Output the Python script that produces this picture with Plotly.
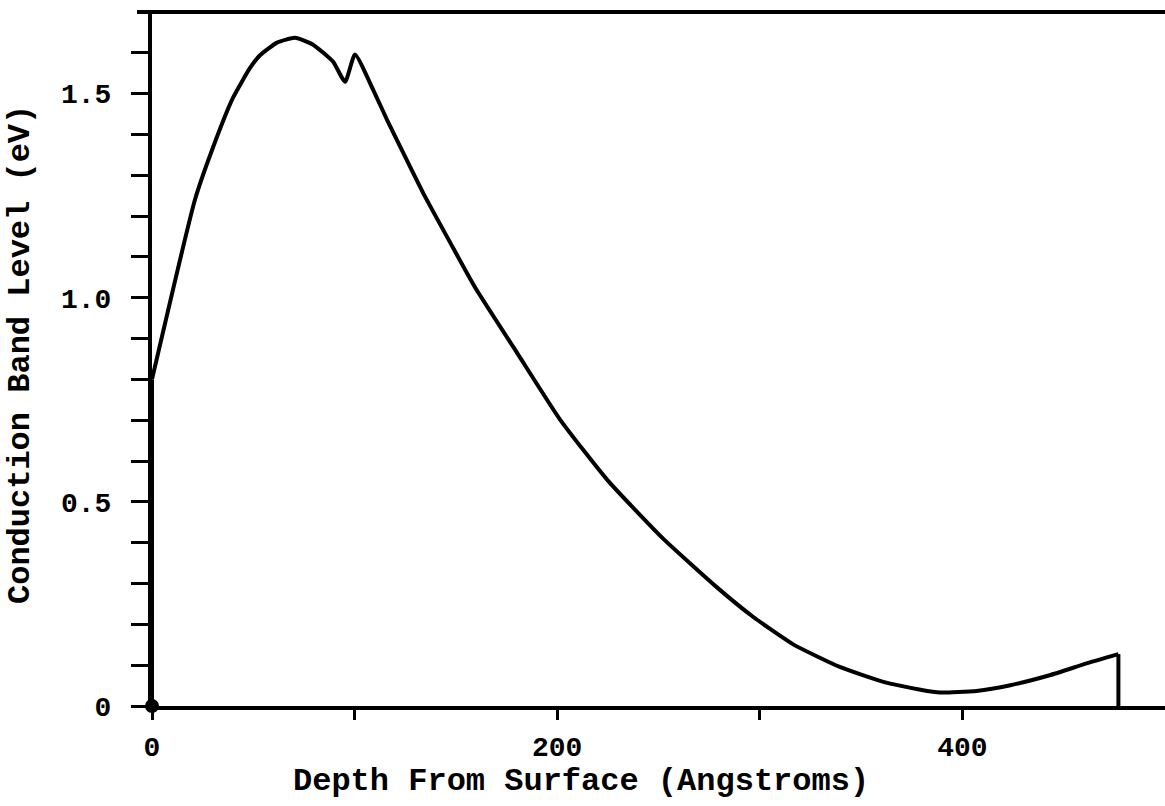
import plotly.graph_objects as go

# Data (depth in Angstroms, conduction band level in eV)
depth = [0, 0, 21.2, 30.1, 40.0, 48.4, 53.3, 61.7, 70.6, 79.5, 89.4, 95.3, 100.2,
         109.1, 116.0, 122.5, 133.8, 147.2, 159.5, 180.2, 201.5, 224.7, 252.3,
         279.0, 296.8, 316.5, 339.8, 361.0, 379.3, 389.0, 407.0, 423.7,
         443.5, 461.7, 477.0, 477.0]
energy = [0, 0.80, 1.24, 1.368, 1.490, 1.563, 1.594, 1.625, 1.637, 1.620, 1.578,
          1.529, 1.596, 1.510, 1.436, 1.370, 1.257, 1.135, 1.025, 0.865, 0.701,
          0.554, 0.410, 0.290, 0.218, 0.151, 0.095, 0.059, 0.040, 0.033,
          0.037, 0.051, 0.076, 0.105, 0.127, 0]

x_tickvals = [0, 100, 200, 300, 400]
x_ticktext = ["0", "", "200", "", "400"]
y_tickvals = [round(0.1 * i, 1) for i in range(17)]
y_ticktext = ["0", "", "", "", "", "0.5", "", "", "", "", "1.0", "", "", "", "", "1.5", ""]

FONT = "Liberation Mono, Courier New, monospace"

fig = go.Figure()
line_lin = dict(color="black", width=4)
# vertical start segment
fig.add_trace(go.Scatter(x=depth[:2], y=energy[:2], mode="lines", line=line_lin,
                         showlegend=False, hoverinfo="skip"))
# smooth body of the curve
fig.add_trace(go.Scatter(x=depth[1:-1], y=energy[1:-1], mode="lines",
                         line=dict(color="black", width=4, shape="spline",
                                   smoothing=0.5),
                         showlegend=False, hoverinfo="skip"))
# vertical drop at the end
fig.add_trace(go.Scatter(x=depth[-2:], y=energy[-2:], mode="lines", line=line_lin,
                         showlegend=False, hoverinfo="skip"))
fig.add_trace(go.Scatter(x=[0], y=[0], mode="markers",
                         marker=dict(color="black", size=14), cliponaxis=False,
                         showlegend=False, hoverinfo="skip"))

fig.update_layout(
    width=1165, height=806,
    margin=dict(l=152, r=0, t=12, b=100),
    paper_bgcolor="white", plot_bgcolor="white",
    font=dict(family=FONT, color="black", size=28, weight="bold"),
    xaxis=dict(range=[0, 500], showgrid=False, zeroline=False,
               showline=True, linecolor="black", linewidth=4,
               ticks="outside", tickvals=x_tickvals, ticktext=x_ticktext,
               ticklen=10, tickwidth=3, tickcolor="black",
               ticklabelstandoff=2,
               tickfont=dict(family=FONT, size=28, weight="bold")),
    yaxis=dict(range=[0, 1.70], showgrid=False, zeroline=False,
               showline=True, linecolor="black", linewidth=4,
               ticks="outside", tickvals=y_tickvals, ticktext=y_ticktext,
               ticklen=17, tickwidth=3, tickcolor="black",
               ticklabelstandoff=14,
               tickfont=dict(family=FONT, size=28, weight="bold")),
    shapes=[dict(type="line", xref="paper", yref="paper",
                 x0=-15 / 1013, x1=1, y0=1, y1=1,
                 line=dict(color="black", width=4))],
    annotations=[
        dict(text="Depth From Surface (Angstroms)", xref="paper", yref="paper",
             x=(581 - 152) / 1013, y=-(781 - 706) / 694, showarrow=False,
             xanchor="center", yanchor="middle",
             font=dict(family=FONT, size=32, weight="bold")),
        dict(text="Conduction Band Level (eV)", xref="paper", yref="paper",
             x=-(152 - 20) / 1013, y=(706 - 355) / 694, showarrow=False,
             textangle=-90, xanchor="center", yanchor="middle",
             font=dict(family=FONT, size=32, weight="bold")),
    ],
)

fig.write_html("out.html")
